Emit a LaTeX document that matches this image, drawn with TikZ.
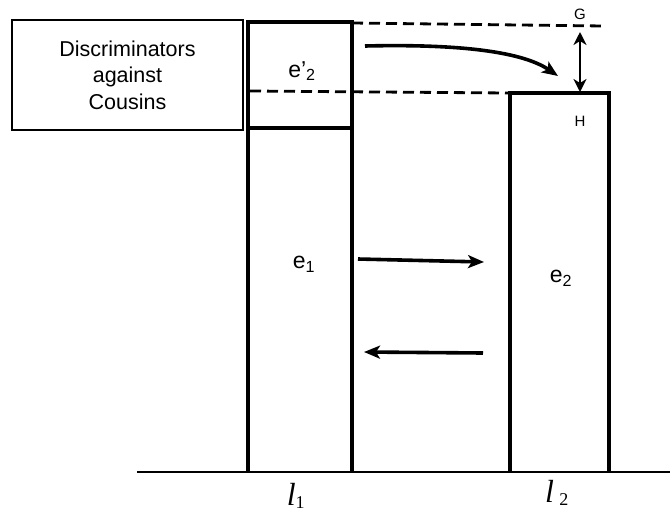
\documentclass[tikz,border=0pt]{standalone}
\usepackage{fontspec}
\setmainfont{Liberation Sans}
\newfontfamily\serifl{Liberation Serif}
\usetikzlibrary{arrows.meta}
\tikzset{
  bar/.style={line width=4pt},
  dashln/.style={line width=2.8pt, dash pattern=on 11pt off 6pt},
  flow/.style={line width=3.6pt, -{Stealth[length=16pt,width=13pt,inset=4pt]}},
  gap/.style={line width=2.8pt, {Stealth[length=13pt,width=13pt,inset=4pt]}-{Stealth[length=13pt,width=13pt,inset=4pt]}},
  lab/.style={inner sep=0pt, font=\fontsize{23}{27}\selectfont},
  small/.style={inner sep=0pt, font=\fontsize{15}{17}\selectfont},
  axlab/.style={inner sep=0pt, font=\serifl\fontsize{32}{34}\selectfont}
}
\begin{document}
\begin{tikzpicture}[x=1pt,y=-1pt]
\useasboundingbox (0,0) rectangle (670,515);
% discriminators box
\node[draw, line width=2.8pt, minimum width=231pt, minimum height=110pt, align=center,
      inner sep=0pt, font=\fontsize{21.5}{26.5}\selectfont] (disc) at (127.5,75) {Discriminators\\against\\Cousins};
% bars
\draw[bar] (248,471) -- (248,22) -- (352,22) -- (352,471);
\draw[bar] (248,128) -- (352,128);
\draw[bar] (510,471) -- (510,93) -- (609,93) -- (609,471);
% baseline
\draw[line width=2.8pt] (137,472) -- (670,472);
% dashed lines
\coordinate (t1) at (352,23);
\coordinate (t2) at (604,26);
\coordinate (m1) at (250,91);
\coordinate (m2) at (509,93);
\draw[dashln] (t1) -- (t2);
\draw[dashln] (m1) -- (m2);
% curved arrow
\coordinate (c1) at (365,46);
\coordinate (c2) at (558,76);
\draw[flow] (c1) .. controls (450,44) and (520,50) .. (c2);
% G-H arrow
\coordinate (g1) at (580,32);
\coordinate (g2) at (580,92);
\draw[gap] (g1) -- (g2);
\node[small] (G) at (580,14) {G};
\node[small] (H) at (580,121) {H};
% labels
\node[lab] (e2p) at (302,71) {e’\textsubscript{2}};
\node[lab] (e1) at (304,264) {e\textsubscript{1}};
\node[lab] (e2) at (561,278) {e\textsubscript{2}};
% horizontal arrows
\coordinate (a1) at (358,259);
\coordinate (a2) at (484,262);
\coordinate (b1) at (483,353);
\coordinate (b2) at (364,352);
\draw[flow] (a1) -- (a2);
\draw[flow] (b1) -- (b2);
% axis labels
\node[axlab, anchor=base] (l1) at (296,505) {\textit{l}\textsubscript{\fontsize{18}{18}\selectfont 1}};
\node[axlab, anchor=base] (l2) at (557,502) {\textit{l}\,\textsubscript{\fontsize{18}{18}\selectfont 2}};
\end{tikzpicture}
\end{document}
